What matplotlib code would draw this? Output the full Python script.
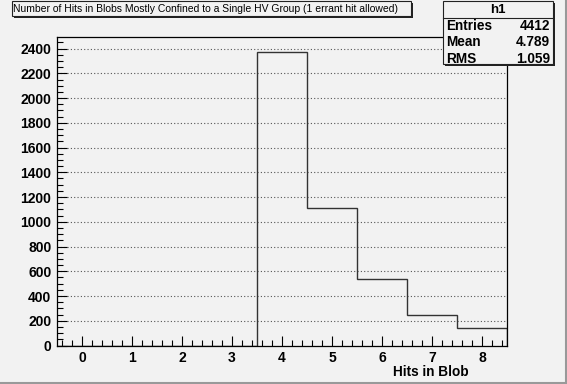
import numpy as np
import matplotlib
matplotlib.use("Agg")
import matplotlib.pyplot as plt
from matplotlib.patches import Rectangle
from matplotlib.ticker import MultipleLocator

# dados do histograma (bins centrados em 0..8)
bin_centers = [0, 1, 2, 3, 4, 5, 6, 7, 8]
counts = [0, 0, 0, 0, 2375, 1110, 540, 245, 142]
stats_labels = ["Entries", "Mean", "RMS"]
stats_values = ["4412", "4.789", "1.059"]
hist_name = "h1"
title = "Number of Hits in Blobs Mostly Confined to a Single HV Group (1 errant hit allowed)"
xlabel = "Hits in Blob"

W, H = 567, 384
bg = "#f2f2f2"
fig = plt.figure(figsize=(W / 100, H / 100), dpi=100, facecolor=bg)
plt.rcParams["font.family"] = ["Liberation Sans", "DejaVu Sans"]


def fx(x):
    return x / W


def fy(y):
    return 1 - y / H


# eixos
ax = fig.add_axes([fx(57), fy(345.5), fx(507) - fx(57), fy(37) - fy(345.5)])
ax.set_facecolor(bg)

edges = np.array(bin_centers + [bin_centers[-1] + 1]) - 0.5
ax.stairs(counts, edges, color="#333333", linewidth=1.0, baseline=0)

ax.set_xlim(edges[0], edges[-1])
ax.set_ylim(0, max(counts) * 1.05)

ax.xaxis.set_major_locator(MultipleLocator(1))
ax.xaxis.set_minor_locator(MultipleLocator(0.2))
ax.yaxis.set_major_locator(MultipleLocator(200))
ax.yaxis.set_minor_locator(MultipleLocator(50))
ax.tick_params(which="both", direction="in", top=False, right=False, color="black", width=0.8)
ax.tick_params(which="major", length=7, labelsize=10, pad=4)
ax.tick_params(which="minor", length=4)
for lab in ax.get_xticklabels() + ax.get_yticklabels():
    lab.set_fontweight("bold")

ax.yaxis.grid(True, linestyle=(0, (1, 2)), color="#555555", linewidth=0.8)
ax.set_axisbelow(True)
for s in ax.spines.values():
    s.set_linewidth(0.9)
    s.set_color("black")

# rotulo do eixo x
fig.text(fx(469), fy(372), xlabel, ha="right", va="center", fontsize=9.8, fontweight="bold")


def caixa(x0, y0, x1, y1):
    fig.patches.append(Rectangle((fx(x0 + 2), fy(y1 + 2)), fx(x1 - x0), fy(y0) - fy(y1),
                                 transform=fig.transFigure, facecolor="#222222", edgecolor="none", zorder=5))
    fig.patches.append(Rectangle((fx(x0), fy(y1)), fx(x1 - x0), fy(y0) - fy(y1),
                                 transform=fig.transFigure, facecolor=bg, edgecolor="#222222",
                                 linewidth=0.8, zorder=6))


# caixa do titulo
caixa(11.5, 1, 411, 16)
fig.text(fx(13), fy(9), title, ha="left", va="center", fontsize=7.5, zorder=7)

# caixa de estatisticas
caixa(443, 1, 553, 64)
fig.add_artist(plt.Line2D([fx(443), fx(553)], [fy(18), fy(18)], color="#222222", linewidth=0.8, zorder=7))
fig.text(fx(498), fy(10), hist_name, ha="center", va="center", fontsize=9.5, fontweight="bold", zorder=7)
for i, (lab, val) in enumerate(zip(stats_labels, stats_values)):
    y = 26 + i * 16.5
    fig.text(fx(446), fy(y), lab, ha="left", va="center", fontsize=9.8, fontweight="bold", zorder=7)
    fig.text(fx(550), fy(y), val, ha="right", va="center", fontsize=9.8, fontweight="bold", zorder=7)

# borda do canvas
fig.add_artist(plt.Line2D([0, 1], [fy(383), fy(383)], color="#999999", linewidth=1.5))
fig.add_artist(plt.Line2D([fx(566), fx(566)], [0, 1], color="#999999", linewidth=1.5))

fig.savefig("out.png", dpi=100, facecolor=bg)
